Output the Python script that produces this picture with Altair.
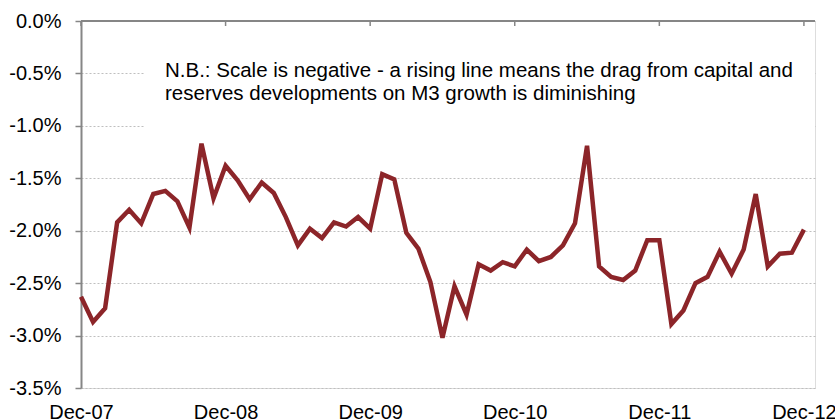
import altair as alt
import pandas as pd

# Monthly series, Dec-07 .. Dec-12 (percent)
values = [-2.63, -2.87, -2.74, -1.92, -1.80, -1.93, -1.65, -1.62, -1.72, -1.97,
          -1.17, -1.69, -1.38, -1.52, -1.70, -1.54, -1.64, -1.87, -2.14, -1.98,
          -2.07, -1.92, -1.96, -1.87, -1.98, -1.46, -1.51, -2.02, -2.17, -2.49,
          -3.02, -2.53, -2.80, -2.32, -2.38, -2.30, -2.34, -2.18, -2.29, -2.25,
          -2.14, -1.93, -1.19, -2.34, -2.44, -2.47, -2.38, -2.09, -2.09, -2.89,
          -2.76, -2.50, -2.44, -2.20, -2.41, -2.18, -1.65, -2.34, -2.22, -2.21,
          -1.99]
months = list(pd.date_range("2007-12-01", periods=len(values), freq="MS").strftime("%b-%y"))
tick_labels = ["Dec-07", "Dec-08", "Dec-09", "Dec-10", "Dec-11", "Dec-12"]
tick_idx = [0, 12, 24, 36, 48, 60]
y_ticks = [0.0, -0.5, -1.0, -1.5, -2.0, -2.5, -3.0, -3.5]
note_lines = ["N.B.: Scale is negative - a rising line means the drag from capital and",
              "reserves developments on M3 growth is diminishing"]

df = pd.DataFrame({"idx": list(range(len(values))), "month": months, "value": values})
ticks_df = pd.DataFrame({"idx": tick_idx, "label": tick_labels})

W, H = 734, 367
GREY = "#868686"
FONT = "Liberation Sans"

label_expr = "[" + ",".join("'%s'" % t for t in tick_labels) + "][round(datum.value/12)]"

x_scale = alt.Scale(domain=[0, 60.92], nice=False, zero=False)
y_scale = alt.Scale(domain=[-3.5, 0], nice=False)

base = alt.Chart(df)

line = base.mark_line(color="#8C2529", strokeWidth=4.5).encode(
    x=alt.X("idx:Q", scale=x_scale,
            axis=alt.Axis(values=tick_idx, labelExpr=label_expr, title=None,
                          domain=False, ticks=False, grid=False,
                          labelFontSize=20, labelColor="#000000", labelFont=FONT,
                          labelPadding=14, labelFlush=False)),
    y=alt.Y("value:Q", scale=y_scale,
            axis=alt.Axis(values=y_ticks, title=None,
                          labelExpr="replace(format(datum.value, '.1f'), '\u2212', '-') + '%'",
                          domain=True, domainColor=GREY, domainWidth=2,
                          ticks=True, tickColor=GREY, tickSize=6, tickWidth=1.5,
                          grid=True, gridColor="#BFBFBF", gridDash=[2, 2], gridWidth=1,
                          labelFontSize=20, labelColor="#000000", labelFont=FONT,
                          labelPadding=14)),
    tooltip=["month:N", "value:Q"],
)

# white box behind the note (hides gridlines)
box = alt.Chart(pd.DataFrame({"a": [0]})).mark_rect(color="white").encode(
    x=alt.value(64), x2=alt.value(W), y=alt.value(30), y2=alt.value(135)
)

note = alt.Chart(pd.DataFrame({"a": [0]})).mark_text(
    align="left", baseline="alphabetic", fontSize=20.5, font=FONT,
    color="#000000", lineHeight=23
).encode(x=alt.value(84), y=alt.value(56), text=alt.value(note_lines))

top_line = alt.Chart(pd.DataFrame({"a": [0]})).mark_rule(color=GREY, strokeWidth=2).encode(
    x=alt.value(0), x2=alt.value(W), y=alt.value(0)
)

top_ticks = alt.Chart(ticks_df).mark_rule(color=GREY, strokeWidth=1.5).encode(
    x=alt.X("idx:Q", scale=x_scale), y=alt.value(0), y2=alt.value(5)
)

chart = alt.layer(box, note, line, top_line, top_ticks).properties(
    width=W, height=H,
    padding={"left": 81, "top": 21, "right": 20, "bottom": 32},
    autosize="none",
).configure_view(stroke=None).configure(font=FONT, background="white")

chart.save("out.html", embed_options={"renderer": "svg", "actions": False})
